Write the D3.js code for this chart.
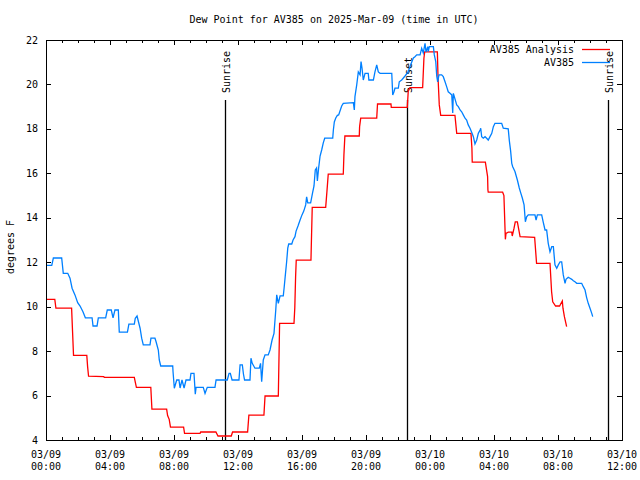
<!DOCTYPE html>
<html>
<head>
<meta charset="utf-8">
<script src="https://cdn.jsdelivr.net/npm/d3@7"></script>
<style>
  body { margin: 0; background: #fff; }
  svg { display: block; }
  text { font-family: "DejaVu Sans Mono", "Liberation Mono", monospace; font-size: 10px; fill: #000; }
</style>
</head>
<body>
<div id="chart"></div>
<script>
// hours after 2025-03-09 00:00 UTC
const analysisHours = [0, 0.55, 0.62, 1.6, 1.66, 1.72, 2.55, 2.6, 2.66, 3.6, 3.65, 5.52, 5.58, 5.65, 6.55, 6.62, 7.54, 7.6, 7.7, 7.78, 8.6, 8.66, 9.63, 9.67, 10.62, 10.75, 11.58, 11.66, 12.6, 12.68, 13.62, 13.69, 14.52, 14.6, 15.5, 15.55, 15.6, 15.64, 16.56, 16.6, 16.64, 17.48, 17.56, 17.64, 18.58, 18.62, 18.68, 19.58, 19.6, 19.67, 20.67, 20.72, 21.56, 21.58, 22.58, 22.64, 22.75, 23.54, 23.62, 23.67, 24.46, 24.5, 24.58, 24.67, 25.56, 25.67, 26.56, 26.62, 26.64, 27.46, 27.6, 27.62, 27.64, 28.54, 28.62, 28.71, 28.75, 28.89, 29.11, 29.14, 29.25, 29.33, 29.46, 29.54, 29.63, 30.54, 30.66, 31.5, 31.6, 31.67, 31.85, 32.1, 32.27, 32.31, 32.4, 32.54];
const analysisValues = [10.33, 10.33, 9.93, 9.93, 8.87, 7.81, 7.81, 7.3, 6.87, 6.85, 6.82, 6.82, 6.6, 6.37, 6.37, 5.39, 5.39, 5.1, 4.93, 4.58, 4.58, 4.3, 4.3, 4.36, 4.36, 4.18, 4.18, 4.36, 4.36, 5.12, 5.12, 5.98, 5.98, 9.25, 9.25, 9.95, 11.35, 12.09, 12.09, 13.3, 14.47, 14.47, 15.2, 15.96, 15.96, 16.83, 17.68, 17.68, 18.1, 18.48, 18.48, 19.12, 19.12, 18.97, 18.97, 19.7, 19.86, 19.86, 21.18, 21.47, 21.47, 20.35, 19.08, 18.61, 18.61, 17.8, 17.8, 17.13, 16.5, 16.5, 15.85, 15.25, 15.15, 15.15, 15.0, 13.03, 13.3, 13.35, 13.35, 13.18, 13.52, 13.82, 13.82, 13.5, 13.15, 13.12, 11.95, 11.95, 10.67, 10.22, 10.03, 10.03, 10.26, 9.93, 9.55, 9.1];

const obsHours = [0, 0.36, 0.46, 0.98, 1.08, 1.36, 1.5, 1.63, 1.81, 1.98, 2.13, 2.31, 2.46, 2.88, 2.94, 3.19, 3.27, 3.73, 3.83, 4.08, 4.19, 4.31, 4.52, 4.58, 5.09, 5.18, 5.52, 5.58, 5.69, 5.88, 5.98, 6.08, 6.5, 6.56, 6.81, 6.88, 7.02, 7.08, 7.17, 7.92, 7.94, 8.02, 8.17, 8.31, 8.38, 8.5, 8.63, 8.75, 9.0, 9.06, 9.25, 9.33, 9.38, 9.83, 9.94, 10.08, 10.56, 10.63, 11.33, 11.44, 11.52, 11.63, 12.06, 12.13, 12.27, 12.34, 12.41, 12.75, 12.81, 12.89, 13.06, 13.33, 13.41, 13.48, 13.58, 13.69, 13.89, 14.0, 14.13, 14.25, 14.36, 14.42, 14.52, 14.63, 14.83, 14.88, 14.96, 15.04, 15.11, 15.17, 15.36, 15.44, 15.56, 15.63, 15.75, 15.88, 16.0, 16.11, 16.23, 16.29, 16.36, 16.54, 16.66, 16.75, 16.83, 16.91, 16.96, 17.04, 17.13, 17.23, 17.33, 17.42, 17.92, 17.96, 18.02, 18.11, 18.21, 18.29, 18.48, 18.58, 19.21, 19.27, 19.31, 19.42, 19.52, 19.63, 19.69, 19.75, 19.83, 19.94, 20.14, 20.18, 20.46, 20.56, 20.67, 20.77, 20.88, 21.61, 21.67, 21.75, 21.81, 22.02, 22.08, 22.23, 22.44, 22.63, 22.81, 22.96, 23.06, 23.17, 23.38, 23.48, 23.58, 23.69, 23.75, 23.86, 23.89, 23.96, 24.21, 24.27, 24.36, 24.42, 24.48, 24.56, 24.73, 24.83, 24.94, 25.04, 25.14, 25.25, 25.36, 25.42, 25.46, 25.56, 25.67, 25.77, 25.88, 25.98, 26.08, 26.19, 26.29, 26.39, 26.5, 26.61, 26.71, 26.81, 26.92, 27.02, 27.13, 27.17, 27.23, 27.33, 27.44, 27.54, 27.64, 27.75, 27.86, 27.96, 28.06, 28.48, 28.58, 28.89, 28.96, 29.04, 29.11, 29.17, 29.31, 29.46, 29.58, 29.67, 29.77, 29.88, 29.96, 30.04, 30.14, 30.56, 30.63, 30.71, 30.98, 31.08, 31.19, 31.29, 31.39, 31.5, 31.61, 31.71, 31.81, 31.92, 32.02, 32.13, 32.23, 32.33, 32.44, 32.5, 32.64, 32.75, 32.86, 32.96, 33.06, 33.17, 33.48, 33.58, 33.69, 33.79, 33.89, 34.0, 34.11, 34.17];
const obsValues = [11.86, 11.86, 12.19, 12.19, 11.5, 11.5, 11.28, 10.83, 10.53, 10.18, 10.03, 9.77, 9.5, 9.5, 9.13, 9.13, 9.5, 9.5, 9.85, 9.85, 9.5, 9.85, 9.85, 8.85, 8.85, 9.21, 9.21, 9.48, 9.58, 9.03, 8.58, 8.28, 8.28, 8.58, 8.58, 8.42, 8.05, 7.6, 7.33, 7.33, 7.07, 6.33, 6.7, 6.7, 6.34, 6.7, 6.34, 6.7, 6.7, 7.0, 7.0, 6.06, 6.37, 6.37, 6.1, 6.37, 6.37, 6.7, 6.7, 7.0, 7.0, 6.7, 6.7, 7.38, 7.38, 6.97, 6.7, 6.7, 7.68, 7.45, 7.23, 7.23, 7.45, 6.62, 7.6, 7.83, 7.83, 8.05, 8.5, 8.8, 9.85, 10.53, 10.15, 10.49, 10.49, 10.83, 11.43, 12.02, 12.63, 12.82, 12.82, 13.0, 13.15, 13.4, 13.63, 13.9, 14.13, 14.3, 14.58, 14.94, 14.67, 14.67, 15.12, 15.43, 16.15, 16.24, 15.66, 16.24, 16.78, 17.05, 17.37, 17.58, 17.58, 17.95, 18.31, 18.49, 18.61, 18.63, 19.03, 19.15, 19.18, 18.85, 19.45, 19.98, 20.56, 20.43, 21.03, 20.74, 20.2, 20.5, 20.5, 20.2, 20.2, 20.57, 20.88, 20.56, 20.5, 20.5, 19.53, 19.67, 19.83, 19.83, 20.12, 20.2, 20.38, 20.56, 20.92, 21.19, 21.25, 21.33, 21.33, 21.63, 21.42, 21.85, 21.46, 21.7, 21.48, 21.7, 21.7, 21.33, 21.03, 20.38, 20.12, 20.43, 20.43, 20.35, 20.12, 19.9, 19.67, 19.6, 19.53, 18.72, 19.6, 19.35, 19.08, 19.0, 18.85, 18.77, 18.63, 18.48, 18.4, 18.18, 18.03, 17.84, 17.65, 17.32, 17.5, 17.8, 17.95, 18.03, 17.65, 17.58, 17.65, 17.58, 17.5, 17.65, 17.8, 18.1, 18.25, 18.25, 18.03, 18.0, 17.46, 17.0, 16.45, 16.3, 16.08, 15.7, 15.34, 15.12, 14.89, 14.58, 13.82, 14.04, 14.13, 14.13, 13.9, 14.13, 14.13, 13.79, 13.45, 13.45, 12.85, 12.47, 12.7, 12.7, 11.88, 11.73, 11.88, 12.02, 12.02, 11.43, 11.05, 11.23, 11.32, 11.28, 11.23, 11.17, 11.12, 11.05, 11.05, 10.9, 10.75, 10.41, 10.15, 9.93, 9.7, 9.55];

const yTicks = [4, 6, 8, 10, 12, 14, 16, 18, 20, 22];
const xMajorHours = [0, 4, 8, 12, 16, 20, 24, 28, 32, 36];
const sunNames = ["Sunrise", "Sunset", "Sunrise"];
const sunHours = [11.21, 22.58, 35.14];
const seriesNames = ["AV385 Analysis", "AV385"];
const seriesColors = ["#ff0000", "#0080ff"];

const w = 640, h = 480;
const padL = 46, padR = 622, padT = 40, padB = 440;
const t0 = Date.UTC(2025, 2, 9, 0, 0);
const toDate = hr => new Date(t0 + hr * 3600000);

const x = d3.scaleUtc().domain([toDate(0), toDate(36)]).range([padL, padR]);
const y = d3.scaleLinear().domain([4, 22]).range([padB, padT]);

const svg = d3.select('#chart').append('svg')
  .attr('width', w).attr('height', h);

// title
svg.append('text')
  .attr('x', (padL + padR) / 2).attr('y', 23)
  .attr('text-anchor', 'middle')
  .text('Dew Point for AV385 on 2025-Mar-09 (time in UTC)');

// y label
svg.append('text')
  .attr('transform', 'translate(14,247) rotate(-90)')
  .attr('text-anchor', 'middle')
  .text('degrees F');

const minorHours = d3.range(0, 37);
const tickG = svg.append('g').attr('stroke', '#000').attr('stroke-width', 1).attr('shape-rendering', 'crispEdges');

// x ticks bottom and top (inward)
tickG.selectAll('.xt').data(minorHours).enter().append('path')
  .attr('d', d => {
    const px = Math.round(x(toDate(d))) + 0.5;
    const len = d % 4 === 0 ? 5 : 3;
    return `M${px},${padB}v${-len}M${px},${padT}v${len}`;
  });

// y ticks left and right
tickG.selectAll('.yt').data(yTicks).enter().append('path')
  .attr('d', d => {
    const py = Math.round(y(d)) + 0.5;
    return `M${padL},${py}h5M${padR},${py}h-5`;
  });

// y labels
svg.append('g').selectAll('text').data(yTicks).enter().append('text')
  .attr('x', padL - 8).attr('y', d => y(d)).attr('dy', '0.35em')
  .attr('text-anchor', 'end')
  .text(d => d);

// x labels, two lines
const fmtDay = d3.utcFormat('%m/%d');
const fmtTime = d3.utcFormat('%H:%M');
const xl = svg.append('g').selectAll('text').data(xMajorHours).enter().append('text')
  .attr('text-anchor', 'middle');
xl.append('tspan').attr('x', d => x(toDate(d))).attr('y', 458).text(d => fmtDay(toDate(d)));
xl.append('tspan').attr('x', d => x(toDate(d))).attr('y', 470).text(d => fmtTime(toDate(d)));

// sunrise / sunset markers
const sun = svg.append('g').selectAll('g').data(sunHours).enter().append('g');
sun.append('line')
  .attr('x1', d => Math.round(x(toDate(d))) + 0.5).attr('x2', d => Math.round(x(toDate(d))) + 0.5)
  .attr('y1', 100).attr('y2', padB)
  .attr('stroke', '#000').attr('stroke-width', 1.3);
sun.append('text')
  .attr('transform', d => `translate(${x(toDate(d)) + 4.5},93) rotate(-90)`)
  .text((d, i) => sunNames[i]);

// series lines
const makeLine = (hours) => d3.line()
  .x((d, i) => x(toDate(hours[i])))
  .y(d => y(d));

svg.append('path')
  .attr('d', makeLine(analysisHours)(analysisValues))
  .attr('fill', 'none').attr('stroke', seriesColors[0]).attr('stroke-width', 1.3);

svg.append('path')
  .attr('d', makeLine(obsHours)(obsValues))
  .attr('fill', 'none').attr('stroke', seriesColors[1]).attr('stroke-width', 1.3);

// border
svg.append('rect')
  .attr('x', padL + 0.5).attr('y', padT + 0.5)
  .attr('width', padR - padL).attr('height', padB - padT)
  .attr('fill', 'none').attr('stroke', '#000').attr('stroke-width', 1)
  .attr('shape-rendering', 'crispEdges');

// legend
const leg = svg.append('g').selectAll('g').data(seriesNames).enter().append('g')
  .attr('transform', (d, i) => `translate(0,${49 + i * 13})`);
leg.append('text').attr('x', 574).attr('y', 4).attr('text-anchor', 'end').text(d => d);
leg.append('line').attr('x1', 582).attr('x2', 610).attr('y1', 0.5).attr('y2', 0.5)
  .attr('stroke', (d, i) => seriesColors[i]).attr('stroke-width', 1.3);
</script>
</body>
</html>
